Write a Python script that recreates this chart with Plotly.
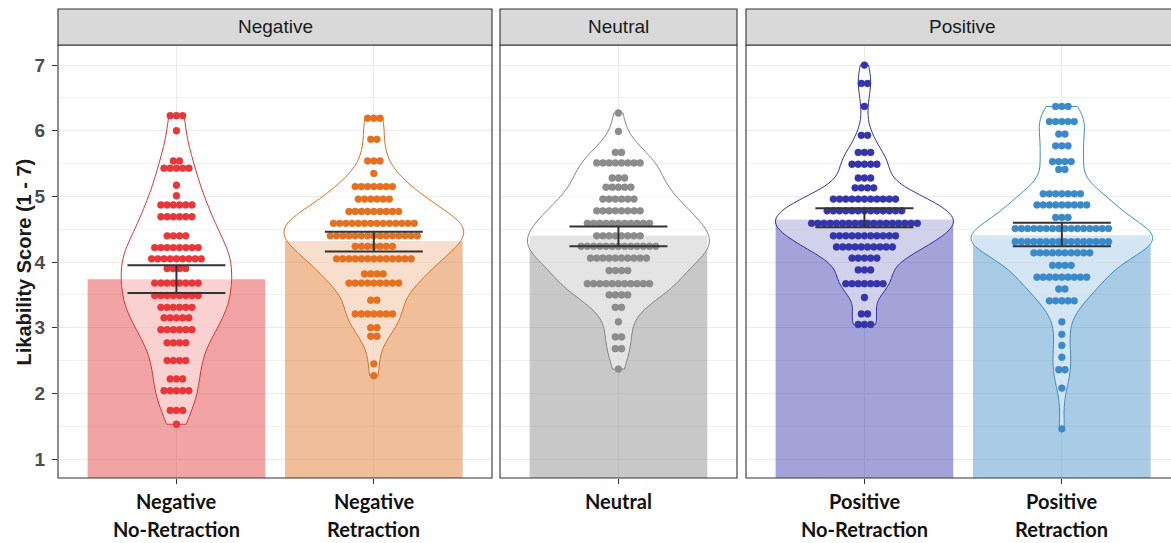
import numpy as np
import plotly.graph_objects as go

W, H = 1171, 543

# ---- data -------------------------------------------------------------
PANELS = ["Negative", "Neutral", "Positive"]
GROUP_LINE1 = ["Negative", "Negative", "Neutral", "Positive", "Positive"]
GROUP_LINE2 = ["No-Retraction", "Retraction", "", "No-Retraction", "Retraction"]
GROUP_PANEL = [0, 0, 1, 2, 2]
GROUP_POS = [1, 2, 1, 1, 2]

MEANS = [3.74, 4.32, 4.40, 4.65, 4.41]
CI_LOW = [3.53, 4.16, 4.24, 4.53, 4.24]
CI_HIGH = [3.95, 4.46, 4.54, 4.82, 4.60]

NEG_NORET_LEVELS = [6.23, 6.00, 5.54, 5.43, 5.17, 5.01, 4.87, 4.69, 4.40, 4.22, 4.05, 3.90,
                    3.68, 3.49, 3.31, 3.15, 2.97, 2.77, 2.50, 2.22, 2.04, 1.74, 1.53]
NEG_NORET_COUNTS = [3, 1, 2, 5, 1, 1, 6, 6, 4, 8, 9, 4, 8, 8, 6, 5, 6, 4, 4, 3, 5, 3, 1]

NEG_RET_LEVELS = [6.19, 5.87, 5.54, 5.35, 5.15, 4.96, 4.77, 4.59, 4.40, 4.24, 4.05, 3.82,
                  3.68, 3.42, 3.21, 3.00, 2.87, 2.45, 2.27]
NEG_RET_COUNTS = [3, 2, 3, 1, 7, 6, 9, 14, 15, 7, 13, 4, 9, 2, 7, 2, 2, 1, 1]

NEUTRAL_LEVELS = [6.27, 5.99, 5.67, 5.51, 5.28, 5.14, 4.96, 4.78, 4.59, 4.40, 4.24, 4.06,
                  3.87, 3.67, 3.50, 3.31, 3.09, 2.86, 2.68, 2.37]
NEUTRAL_COUNTS = [1, 1, 2, 8, 3, 5, 6, 8, 11, 8, 13, 10, 4, 11, 4, 2, 1, 2, 2, 1]

POS_NORET_LEVELS = [7.00, 6.72, 6.37, 5.93, 5.67, 5.49, 5.28, 5.13, 4.96, 4.78, 4.59, 4.40,
                    4.23, 4.06, 3.88, 3.67, 3.46, 3.21, 3.05]
POS_NORET_COUNTS = [1, 2, 1, 2, 3, 5, 3, 4, 11, 13, 18, 11, 10, 5, 3, 7, 1, 2, 3]

POS_RET_LEVELS = [6.37, 6.14, 5.95, 5.77, 5.53, 5.41, 5.04, 4.87, 4.68, 4.51, 4.31, 4.14,
                  3.95, 3.77, 3.59, 3.41, 3.09, 2.90, 2.73, 2.55, 2.36, 2.08, 1.46]
POS_RET_COUNTS = [3, 5, 2, 3, 4, 2, 7, 9, 3, 16, 16, 10, 4, 9, 2, 5, 1, 1, 1, 1, 2, 1, 1]

LEVELS = [NEG_NORET_LEVELS, NEG_RET_LEVELS, NEUTRAL_LEVELS, POS_NORET_LEVELS, POS_RET_LEVELS]
COUNTS = [NEG_NORET_COUNTS, NEG_RET_COUNTS, NEUTRAL_COUNTS, POS_NORET_COUNTS, POS_RET_COUNTS]

# ---- styling ----------------------------------------------------------
BASE_RGB = [(226, 52, 52), (222, 112, 30), (133, 133, 133), (50, 50, 170), (62, 140, 200)]
DOT_RGB = [(232, 55, 58), (228, 112, 32), (140, 140, 140), (52, 52, 172), (58, 137, 201)]
VIOLIN_WIDTH = [0.56, 0.91, 0.92, 0.90, 0.92]
BAR_ALPHA = 0.45
DOT_STEP = 0.0315
DOT_SIZE = 6.8

# panel geometry in pixels
PANEL_X = [(58, 492), (500, 737), (746, 1179)]
PANEL_TOP, PANEL_BOTTOM = 45, 478
STRIP_TOP = 9
PX_PER_UNIT = 197.4
Y_RANGE = [0.711, 7.306]


def px(x):
    return x / W


def py(y):
    return 1 - y / H


def rgba(c, a):
    return f"rgba({c[0]},{c[1]},{c[2]},{a})"


def nrd0(v):
    v = np.asarray(v, float)
    sd = v.std(ddof=1)
    iqr = np.subtract(*np.percentile(v, [75, 25]))
    return 0.9 * min(sd, iqr / 1.34) * len(v) ** -0.2


def stacked_dots(center, levels, counts):
    xs, ys = [], []
    for lv, n in zip(levels, counts):
        for i in range(n):
            xs.append(center + (i - (n - 1) / 2) * DOT_STEP)
            ys.append(lv)
    return xs, ys


axis_ids = ["", "2", "3"]
fig = go.Figure()

for g in range(5):
    a = axis_ids[GROUP_PANEL[g]]
    xa, ya = "x" + a, "y" + a
    pos = GROUP_POS[g]
    scores = np.repeat(LEVELS[g], COUNTS[g])

    fig.add_trace(go.Bar(
        x=[pos], y=[MEANS[g]], width=0.9, xaxis=xa, yaxis=ya,
        marker=dict(color=rgba(BASE_RGB[g], BAR_ALPHA), line=dict(width=0)),
        showlegend=False, hoverinfo="skip"))

    fig.add_trace(go.Violin(
        x0=pos, y=scores, xaxis=xa, yaxis=ya, width=VIOLIN_WIDTH[g],
        scalemode="width", spanmode="hard", bandwidth=nrd0(scores),
        points=False, box_visible=False, meanline_visible=False,
        fillcolor="rgba(255,255,255,0.5)",
        line=dict(color=rgba(BASE_RGB[g], 1), width=1),
        showlegend=False, hoverinfo="skip"))

    dx, dy = stacked_dots(pos, LEVELS[g], COUNTS[g])
    fig.add_trace(go.Scatter(
        x=dx, y=dy, mode="markers", xaxis=xa, yaxis=ya,
        marker=dict(size=DOT_SIZE, color=rgba(DOT_RGB[g], 1),
                    line=dict(color=rgba(BASE_RGB[g], 1), width=0.6)),
        showlegend=False, hoverinfo="skip"))

    fig.add_trace(go.Scatter(
        x=[pos], y=[MEANS[g]], mode="markers", xaxis=xa, yaxis=ya,
        marker=dict(size=0.1, color="rgba(0,0,0,0)"),
        error_y=dict(type="data", symmetric=False,
                     array=[CI_HIGH[g] - MEANS[g]], arrayminus=[MEANS[g] - CI_LOW[g]],
                     width=49, thickness=2, color="#333333"),
        showlegend=False, hoverinfo="skip"))

layout = dict(
    width=W, height=H, margin=dict(l=0, r=0, t=0, b=0),
    paper_bgcolor="white", plot_bgcolor="white",
    barmode="overlay", violinmode="overlay",
    showlegend=False,
)

for p, a in enumerate(axis_ids):
    x0, x1 = PANEL_X[p]
    right = min(x1, W)
    n_units = (right - x0) / PX_PER_UNIT
    layout["xaxis" + a] = dict(
        domain=[px(x0), px(right)], range=[0.4, 0.4 + n_units],
        anchor="y" + a, tickvals=[1, 2] if p != 1 else [1],
        showticklabels=False, ticks="outside", ticklen=5, tickcolor="#333333",
        showgrid=True, gridcolor="#EBEBEB", gridwidth=1, zeroline=False,
        showline=False, fixedrange=True)
    layout["yaxis" + a] = dict(
        domain=[py(PANEL_BOTTOM), py(PANEL_TOP)], range=Y_RANGE,
        anchor="x" + a, tickvals=[1, 2, 3, 4, 5, 6, 7],
        showticklabels=(p == 0), ticks="outside" if p == 0 else "",
        ticklen=5, tickcolor="#333333", ticklabelstandoff=3,
        tickfont=dict(family="Liberation Sans, Arial", size=19, color="#4D4D4D", weight="bold"),
        showgrid=True, gridcolor="#EBEBEB", gridwidth=1, zeroline=False,
        minor=dict(dtick=0.5, showgrid=True, gridcolor="#F0F0F0", gridwidth=0.7),
        showline=False, fixedrange=True)

shapes = []
annotations = []
for p, name in enumerate(PANELS):
    x0, x1 = PANEL_X[p]
    shapes.append(dict(type="rect", xref="paper", yref="paper",
                       x0=px(x0), x1=px(x1), y0=py(PANEL_BOTTOM), y1=py(PANEL_TOP),
                       line=dict(color="#333333", width=1.1), fillcolor="rgba(0,0,0,0)",
                       layer="above"))
    shapes.append(dict(type="rect", xref="paper", yref="paper",
                       x0=px(x0), x1=px(x1), y0=py(PANEL_TOP), y1=py(STRIP_TOP),
                       line=dict(color="#333333", width=1.1), fillcolor="#D9D9D9",
                       layer="above"))
    annotations.append(dict(xref="paper", yref="paper", x=px((x0 + x1) / 2),
                            y=py((STRIP_TOP + PANEL_TOP) / 2), text=name, showarrow=False,
                            xanchor="center", yanchor="middle",
                            font=dict(family="Liberation Sans, Arial", size=19, color="#1A1A1A")))

for g in range(5):
    a = axis_ids[GROUP_PANEL[g]]
    for line_text, ycen in ((GROUP_LINE1[g], 501), (GROUP_LINE2[g], 529)):
        if not line_text:
            continue
        annotations.append(dict(xref="x" + a, yref="paper", x=GROUP_POS[g], y=py(ycen),
                                text=line_text, showarrow=False,
                                xanchor="center", yanchor="middle",
                                font=dict(family="Lato, Open Sans", size=20, color="#111111",
                                          weight="bold")))

annotations.append(dict(xref="paper", yref="paper", x=px(23.5), y=py(262),
                        text="Likability Score (1 - 7)", textangle=-90, showarrow=False,
                        xanchor="center", yanchor="middle",
                        font=dict(family="Liberation Sans, Arial", size=20, color="#1A1A1A",
                                  weight="bold")))

layout["shapes"] = shapes
layout["annotations"] = annotations
fig.update_layout(**layout)

fig.write_html("out.html")
